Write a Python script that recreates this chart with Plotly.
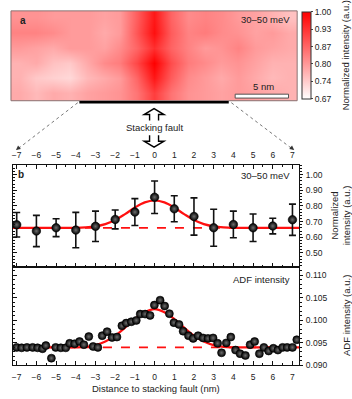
import plotly.graph_objects as go

W, H = 352, 399

def PX(p):
    return p / W

def PY(p):
    return 1 - p / H

FONT = "Liberation Sans, Arial, sans-serif"

# ---------------- data: panel a (heatmap, normalized intensity) ----------------
hm_x = [-12.62, -11.05, -9.47, -7.89, -6.31, -4.73, -3.16, -1.58, 0.0,
        1.58, 3.16, 4.73, 6.31, 7.89, 9.47, 11.05, 12.62]
hm_y = [0.71, 2.13, 3.54, 4.96, 6.38, 7.79]
# rows bottom -> top
hm_z = [
    [0.78, 0.76, 0.78, 0.77, 0.79, 0.80, 0.81, 0.85, 0.92, 0.85, 0.81, 0.80, 0.79, 0.80, 0.79, 0.78, 0.77],
    [0.77, 0.74, 0.73, 0.72, 0.76, 0.78, 0.80, 0.87, 0.97, 0.88, 0.82, 0.80, 0.78, 0.80, 0.78, 0.76, 0.77],
    [0.77, 0.78, 0.75, 0.74, 0.78, 0.82, 0.84, 0.91, 1.00, 0.90, 0.84, 0.82, 0.80, 0.81, 0.79, 0.77, 0.77],
    [0.80, 0.79, 0.78, 0.80, 0.80, 0.79, 0.82, 0.87, 0.94, 0.87, 0.83, 0.80, 0.81, 0.83, 0.80, 0.79, 0.78],
    [0.83, 0.83, 0.82, 0.80, 0.80, 0.78, 0.80, 0.89, 0.98, 0.88, 0.83, 0.84, 0.82, 0.81, 0.79, 0.80, 0.78],
    [0.81, 0.81, 0.80, 0.80, 0.80, 0.79, 0.80, 0.88, 0.97, 0.87, 0.82, 0.83, 0.82, 0.80, 0.79, 0.77, 0.75],
]
cbar_vals = [0.67, 0.736, 0.802, 0.868, 0.934, 1.00]
cbar_text = ["0.67", "0.74", "0.80", "0.87", "0.93", "1.00"]
scale_bar_nm = 5
fault_span = [-7, 7]

# ---------------- data: panel b top (30-50 meV) ----------------
top_x = [-7, -6, -5, -4, -3, -2, -1, 0, 1, 2, 3, 4, 5, 6, 7]
top_y = [0.680, 0.640, 0.661, 0.646, 0.670, 0.714, 0.761, 0.856, 0.782, 0.733,
         0.661, 0.682, 0.661, 0.672, 0.712]
top_err = [0.078, 0.100, 0.057, 0.113, 0.097, 0.060, 0.086, 0.104, 0.083, 0.119,
           0.118, 0.085, 0.088, 0.050, 0.100]
top_fit_x = [-7.19, -6, -5, -4, -3.5, -3, -2.5, -2, -1.5, -1, -0.5, 0,
             0.5, 1, 1.5, 2, 2.5, 3, 3.5, 4, 5, 6, 7.34]
top_fit_y = [0.660, 0.660, 0.660, 0.660, 0.663, 0.670, 0.684, 0.710, 0.748, 0.790, 0.823, 0.835,
             0.823, 0.790, 0.748, 0.710, 0.684, 0.670, 0.663, 0.660, 0.660, 0.660, 0.660]
top_base = 0.660
top_ticks = [0.50, 0.60, 0.70, 0.80, 0.90, 1.00]

# ---------------- data: panel b bottom (ADF intensity) ----------------
adf_x = [-7.00, -6.75, -6.48, -6.19, -5.94, -5.69, -5.52, -5.24, -5.02, -4.76,
         -4.51, -4.31, -4.06, -3.81, -3.59, -3.34, -3.12, -2.88, -2.66, -2.41,
         -2.16, -1.91, -1.66, -1.44, -1.18, -0.93, -0.73, -0.48, -0.23, -0.01,
         0.28, 0.51, 0.75, 0.98, 1.24, 1.45, 1.72, 1.96, 2.21, 2.46,
         2.71, 2.97, 3.20, 3.40, 3.64, 3.87, 4.11, 4.34, 4.61, 4.85,
         5.08, 5.32, 5.55, 5.79, 6.03, 6.26, 6.50, 6.73, 7.00, 7.22]
adf_y = [0.0940, 0.0939, 0.0940, 0.0940, 0.0939, 0.0937, 0.0944, 0.0916, 0.0940, 0.0939,
         0.0939, 0.0949, 0.0948, 0.0953, 0.0946, 0.0964, 0.0942, 0.0940, 0.0966, 0.0975,
         0.0962, 0.0963, 0.0988, 0.0994, 0.0997, 0.1000, 0.1014, 0.1014, 0.1011, 0.1034,
         0.1045, 0.1032, 0.1015, 0.0995, 0.0991, 0.0976, 0.0966, 0.0960, 0.0966, 0.0961,
         0.0960, 0.0961, 0.0949, 0.0928, 0.0950, 0.0963, 0.0934, 0.0926, 0.0922, 0.0946,
         0.0953, 0.0926, 0.0940, 0.0932, 0.0938, 0.0934, 0.0940, 0.0940, 0.0940, 0.0957]
adf_fit_x = [-7.19, -6, -5, -4, -3.5, -3, -2.5, -2, -1.5, -1, -0.5, 0,
             0.5, 1, 1.5, 2, 2.5, 3, 3.5, 4, 5, 6, 7.34]
adf_fit_y = [0.0940, 0.0940, 0.0940, 0.0940, 0.0941, 0.0945, 0.0953, 0.0966, 0.0984, 0.1003, 0.1018, 0.1025,
             0.1018, 0.1003, 0.0984, 0.0966, 0.0953, 0.0945, 0.0941, 0.0940, 0.0940, 0.0940, 0.0940]
adf_base = 0.0940
adf_ticks = [0.090, 0.095, 0.100, 0.105, 0.110]

x_ticks = list(range(-7, 8))

# ---------------- figure ----------------
RED = "#ff1010"
fig = go.Figure()

fig.add_trace(go.Heatmap(
    x=hm_x, y=hm_y, z=hm_z, xaxis="x3", yaxis="y3",
    zmin=0.67, zmax=1.0, zsmooth="best",
    colorscale=[[0, "#ffffff"], [1, "#ff0000"]],
    colorbar=dict(
        x=PX(302), xanchor="left", y=PY(56), yanchor="middle",
        len=88 / H, lenmode="fraction", thickness=9, thicknessmode="pixels",
        xpad=0, ypad=0, outlinewidth=1, outlinecolor="#333",
        tickvals=cbar_vals, ticktext=cbar_text, ticks="outside", ticklen=2,
        tickfont=dict(size=8.5, family=FONT, color="#222"),
    ),
))

marker_style = dict(size=8.5, color="#000000", line=dict(width=0.6, color="#000"),
                    gradient=dict(type="radial", color="#6e6e6e"))

# top panel
fig.add_trace(go.Scatter(x=[], y=[], xaxis="x", yaxis="y5", showlegend=False))
fig.add_trace(go.Scatter(x=top_fit_x, y=top_fit_y, mode="lines", xaxis="x", yaxis="y",
                         line=dict(color=RED, width=2.2, shape="spline"), showlegend=False))
fig.add_trace(go.Scatter(x=top_x, y=top_y, mode="markers", xaxis="x", yaxis="y",
                         marker=marker_style,
                         error_y=dict(type="data", array=top_err, visible=True,
                                      color="#111", thickness=1.6, width=3.5),
                         showlegend=False))
# bottom panel
fig.add_trace(go.Scatter(x=[], y=[], xaxis="x2", yaxis="y6", showlegend=False))
fig.add_trace(go.Scatter(x=adf_fit_x, y=adf_fit_y, mode="lines", xaxis="x2", yaxis="y2",
                         line=dict(color=RED, width=2.2, shape="spline"), showlegend=False))
fig.add_trace(go.Scatter(x=adf_x, y=adf_y, mode="markers", xaxis="x2", yaxis="y2",
                         marker=dict(marker_style, size=8), showlegend=False))

tickfont = dict(size=8.5, family=FONT, color="#222")
xr = [-7.19, 7.34]
xdom = [PX(12), PX(299)]
top_dom = [PY(270), PY(167)]
bot_dom = [PY(370), PY(270)]
top_range = [0.4125, 1.0625]
bot_range = [0.0900, 0.11196]

common_x = dict(range=xr, domain=xdom, tickvals=x_ticks, ticks="inside", ticklen=4,
                tickwidth=1, tickcolor="#111", showline=True, linecolor="#111", linewidth=1,
                showgrid=False, zeroline=False, tickfont=tickfont,
                minor=dict(dtick=0.5, tick0=0, ticks="inside", ticklen=2, tickcolor="#111"))

fig.update_layout(
    width=W, height=H, margin=dict(l=0, r=0, t=0, b=0),
    paper_bgcolor="white", plot_bgcolor="rgba(0,0,0,0)",
    font=dict(family=FONT, size=9, color="#222"),
    xaxis=dict(common_x, anchor="y", side="top", mirror="ticks", ticklabelstandoff=3),
    xaxis2=dict(common_x, anchor="y2", side="bottom", mirror=True, ticklabelstandoff=3),
    yaxis=dict(domain=top_dom, range=top_range, anchor="x", side="right",
               tickvals=top_ticks, tickformat=".2f", ticks="outside", ticklen=3,
               tickcolor="#111", showline=True, linecolor="#111", mirror=True,
               showgrid=False, zeroline=False, tickfont=tickfont, ticklabelstandoff=1,
               minor=dict(dtick=0.02, tick0=0, ticks="outside", ticklen=1.5, tickcolor="#111")),
    yaxis5=dict(overlaying="y", range=top_range, anchor="x", side="left",
                tickvals=top_ticks, ticks="inside", ticklen=4, tickcolor="#111",
                showticklabels=False, showline=False, showgrid=False, zeroline=False,
                minor=dict(dtick=0.02, tick0=0, ticks="inside", ticklen=2, tickcolor="#111")),
    yaxis2=dict(domain=bot_dom, range=bot_range, anchor="x2", side="right",
                tickvals=adf_ticks, tickformat=".3f", ticks="outside", ticklen=3,
                tickcolor="#111", showline=True, linecolor="#111", mirror=True,
                showgrid=False, zeroline=False, tickfont=tickfont, ticklabelstandoff=1,
                minor=dict(dtick=0.001, tick0=0, ticks="outside", ticklen=1.5, tickcolor="#111")),
    yaxis6=dict(overlaying="y2", range=bot_range, anchor="x2", side="left",
                tickvals=adf_ticks, ticks="inside", ticklen=4, tickcolor="#111",
                showticklabels=False, showline=False, showgrid=False, zeroline=False,
                minor=dict(dtick=0.001, tick0=0, ticks="inside", ticklen=2, tickcolor="#111")),
    xaxis3=dict(domain=[PX(10), PX(297)], range=[-13.41, 13.41], anchor="y3",
                visible=False, showgrid=False, zeroline=False),
    yaxis3=dict(domain=[PY(102), PY(11)], range=[0, 8.5], anchor="x3",
                visible=False, showgrid=False, zeroline=False),
)

shapes = []
# heatmap border
shapes.append(dict(type="rect", xref="x3 domain", yref="y3 domain", x0=0, x1=1, y0=0, y1=1,
                   line=dict(color="#8a7070", width=1), layer="above"))
# scale bar
shapes.append(dict(type="rect", xref="x3", yref="y3", x0=12.6 - scale_bar_nm, x1=12.6,
                   y0=0.25, y1=0.62, fillcolor="white", line=dict(color="#555", width=1),
                   layer="above"))
# black bar under heatmap (fault region)
shapes.append(dict(type="line", xref="x3", yref="paper", x0=fault_span[0], x1=fault_span[1],
                   y0=PY(103.5), y1=PY(103.5), line=dict(color="black", width=2.5)))
# dashed guide lines
shapes.append(dict(type="line", xref="paper", yref="paper", x0=PX(77), y0=PY(104),
                   x1=PX(16), y1=PY(151.5), line=dict(color="#555", width=0.8, dash="dot")))
shapes.append(dict(type="line", xref="paper", yref="paper", x0=PX(231), y0=PY(104),
                   x1=PX(293), y1=PY(151.5), line=dict(color="#555", width=0.8, dash="dot")))
# baselines (dashed red)
shapes.append(dict(type="line", xref="x domain", yref="y", x0=0, x1=1, y0=top_base, y1=top_base,
                   line=dict(color=RED, width=1.6, dash="dash"), layer="below"))
shapes.append(dict(type="line", xref="x2 domain", yref="y2", x0=0, x1=1, y0=adf_base, y1=adf_base,
                   line=dict(color=RED, width=1.6, dash="dash"), layer="below"))

# hollow arrows around "Stacking fault"
def path(points):
    return "M " + " L ".join(f"{PX(a):.5f},{PY(b):.5f}" for a, b in points)

cx = 153.5
up = [(cx - 4.5, 122), (cx - 4.5, 116), (cx - 10, 116), (cx, 110), (cx + 10, 116),
      (cx + 4.5, 116), (cx + 4.5, 122)]
dn = [(cx - 4.5, 137), (cx - 4.5, 143), (cx - 10, 143), (cx, 149), (cx + 10, 143),
      (cx + 4.5, 143), (cx + 4.5, 137)]
for pts in (up, dn):
    shapes.append(dict(type="path", xref="paper", yref="paper", path=path(pts),
                       line=dict(color="black", width=1.4)))

fig.update_layout(shapes=shapes)

ann = []
def txt(x, y, s, size=9.5, bold=False, angle=0, xanchor="center"):
    ann.append(dict(x=PX(x), y=PY(y), xref="paper", yref="paper", text=(f"<b>{s}</b>" if bold else s),
                    showarrow=False, textangle=angle, xanchor=xanchor, yanchor="middle",
                    font=dict(size=size, family=FONT, color="#222")))

txt(17, 21, "a", size=10, bold=True, xanchor="left")
txt(292, 20, "30–50 meV", xanchor="right")
txt(263, 88, "5 nm")
txt(345, 56, "Normalized intensity (a.u.)", angle=-90)
txt(cx, 129, "Stacking fault")
txt(15, 177, "b", size=10, bold=True, xanchor="left")
txt(292, 178, "30–50 meV", xanchor="right")
txt(292, 283, "ADF intensity", xanchor="right")
txt(340, 218, "Normalized<br>intensity (a.u.)", angle=-90)
txt(347, 320, "ADF intensity (a.u.)", angle=-90)
txt(155, 393, "Distance to stacking fault (nm)")

# arrowheads of the dashed guides
ann.append(dict(x=PX(15), y=PY(152), xref="paper", yref="paper", text="", showarrow=True,
                ax=5, ay=-4, arrowhead=2, arrowsize=1, arrowwidth=0.9, arrowcolor="#333"))
ann.append(dict(x=PX(294), y=PY(152), xref="paper", yref="paper", text="", showarrow=True,
                ax=-5, ay=-4, arrowhead=2, arrowsize=1, arrowwidth=0.9, arrowcolor="#333"))

fig.update_layout(annotations=ann)

fig.write_html("out.html")
